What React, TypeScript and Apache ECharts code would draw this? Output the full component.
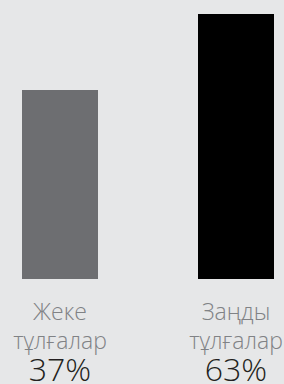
import React, { useEffect, useRef } from "react";
import * as echarts from "echarts";

const categories = ["Жеке\nтұлғалар", "Заңды\nтұлғалар"];
const shares = [37, 63];
const barColors = ["#6d6e71", "#000000"];
const AXIS_MIN = -27.7;
const AXIS_MAX = 63;

export default function App() {
  const ref = useRef<HTMLDivElement>(null);
  useEffect(() => {
    if (!ref.current) return;
    const chart = echarts.init(ref.current, undefined, { renderer: "svg" });
    chart.setOption({
      animation: false,
      backgroundColor: "#e6e7e8",
      grid: {
        left: 0,
        right: 0,
        top: 14,
        bottom: 105,
        containLabel: false,
        outerBoundsMode: "none",
      },
      xAxis: {
        type: "value",
        min: -60 / 176,
        max: 1 + 48 / 176,
        show: true,
        axisLine: { show: false },
        axisTick: { show: false },
        splitLine: { show: false },
        axisLabel: { show: false },
      },
      yAxis: {
        type: "value",
        min: AXIS_MIN,
        max: AXIS_MAX,
        startValue: AXIS_MIN,
        show: false,
        splitLine: { show: false },
      },
      series: [
        {
          type: "bar",
          barWidth: 76,
          clip: false,
          data: shares.map((v, i) => ({ value: [i, v], itemStyle: { color: barColors[i] } })),
          label: {
            show: true,
            position: "bottom",
            distance: 17,
            formatter: (p: any) => {
              const [l1, l2] = categories[p.dataIndex].split("\n");
              return `{a|${l1}}\n{a|${l2}}\n{b|${shares[p.dataIndex]}%}`;
            },
            rich: {
              a: {
                fontFamily: "Open Sans",
                fontWeight: 300,
                fontSize: 23,
                lineHeight: 29,
                color: "#808285",
              },
              b: {
                fontFamily: "Open Sans",
                fontWeight: 300,
                fontSize: 32,
                lineHeight: 28,
                color: "#231f20",
              },
            },
          },
        },
      ],
    });
    return () => chart.dispose();
  }, []);
  return <div ref={ref} style={{ width: 284, height: 384, position: "absolute", left: 0, top: 0 }} />;
}
